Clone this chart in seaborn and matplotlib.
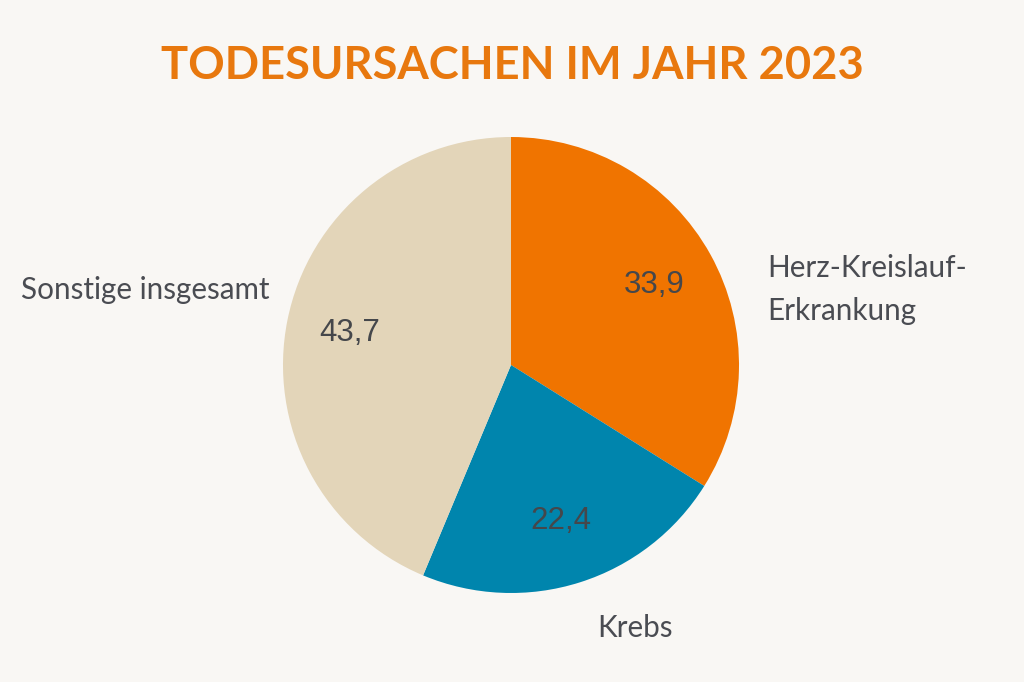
import matplotlib
matplotlib.use('Agg')
import matplotlib.pyplot as plt
import seaborn as sns

sns.set_style('white')
plt.rcParams['font.family'] = ['Lato', 'DejaVu Sans']

# Daten (Anteile in %)
kategorien = ['Herz-Kreislauf-\nErkrankung', 'Krebs', 'Sonstige insgesamt']
werte = [33.9, 22.4, 43.7]
farben = ['#F07400', '#0085AD', '#E3D5B9']

bg = '#F9F7F4'
textfarbe = '#4A4C52'

fig = plt.figure(figsize=(10.24, 6.82), dpi=100, facecolor=bg)
# Achse so legen, dass der Kreis bei (511, 365) mit Radius ~228 px liegt
r_px = 228
cx, cy = 511, 682 - 365
ax = fig.add_axes([(cx - r_px) / 1024, (cy - r_px) / 682, 2 * r_px / 1024, 2 * r_px / 682])
ax.set_facecolor(bg)

wedges, _, autotexts = ax.pie(
    werte, colors=farben, startangle=90, counterclock=False,
    autopct=lambda p: f'{p:.1f}'.replace('.', ','), pctdistance=0.72,
    wedgeprops=dict(linewidth=0),
    textprops=dict(color='#45474B', fontsize=22.5, family=['Liberation Sans', 'DejaVu Sans']))
ax.set_xlim(-1, 1)
ax.set_ylim(-1, 1)
ax.set_aspect('equal')
ax.axis('off')

# Beschriftungen neben dem Kreis
ax.text(1.125, 0.33, kategorien[0], ha='left', va='center', fontsize=21.3,
        color=textfarbe, linespacing=1.65, clip_on=False)
ax.text(0.545, -1.155, kategorien[1], ha='center', va='center', fontsize=21.3,
        color=textfarbe, clip_on=False)
ax.text(-1.06, 0.33, kategorien[2], ha='right', va='center', fontsize=21.3,
        color=textfarbe, clip_on=False)

fig.text(0.5, 1 - 66 / 682, 'TODESURSACHEN IM JAHR 2023', ha='center', va='center',
         fontsize=32.6, fontweight='bold', color='#E8780E')

plt.savefig('out.png', dpi=100, facecolor=bg)
